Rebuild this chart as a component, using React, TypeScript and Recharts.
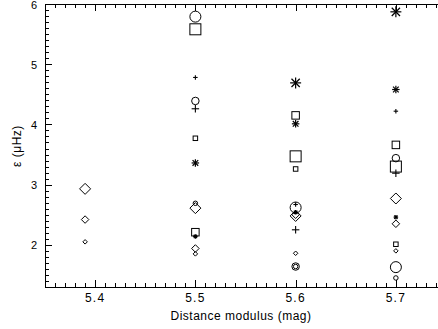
import React from 'react';
import { ScatterChart, Scatter, XAxis, YAxis, ReferenceLine } from 'recharts';

// ---- data (x = distance modulus, y = epsilon in muHz) ----
const circleL = [{ x: 5.5, y: 5.79 }, { x: 5.6, y: 2.62 }, { x: 5.7, y: 1.63 }];
const circleM = [{ x: 5.5, y: 4.39 }, { x: 5.6, y: 1.64 }, { x: 5.7, y: 3.44 }];
const circleS = [{ x: 5.5, y: 2.69 }, { x: 5.6, y: 1.64 }, { x: 5.7, y: 1.45 }];
const squareL = [{ x: 5.5, y: 5.58 }, { x: 5.6, y: 3.47 }, { x: 5.7, y: 3.3 }];
const squareM = [{ x: 5.5, y: 2.21 }, { x: 5.6, y: 4.15 }, { x: 5.7, y: 3.66 }];
const squareS = [{ x: 5.5, y: 3.77 }, { x: 5.6, y: 3.26 }, { x: 5.7, y: 2.01 }];
const diamondL = [{ x: 5.39, y: 2.93 }, { x: 5.5, y: 2.61 }, { x: 5.6, y: 2.48 }, { x: 5.7, y: 2.77 }];
const diamondM = [{ x: 5.39, y: 2.42 }, { x: 5.5, y: 1.94 }, { x: 5.6, y: 2.5 }, { x: 5.7, y: 2.35 }];
const diamondS = [{ x: 5.39, y: 2.05 }, { x: 5.5, y: 1.85 }, { x: 5.6, y: 1.86 }, { x: 5.7, y: 1.9 }];
const plusM = [{ x: 5.5, y: 4.26 }, { x: 5.6, y: 2.25 }, { x: 5.7, y: 3.19 }];
const plusS = [{ x: 5.5, y: 4.78 }, { x: 5.6, y: 2.67 }, { x: 5.7, y: 4.22 }];
const asteriskL = [{ x: 5.6, y: 4.69 }, { x: 5.7, y: 5.87 }];
const asteriskM = [{ x: 5.5, y: 3.36 }, { x: 5.6, y: 4.01 }, { x: 5.7, y: 4.58 }];
const asteriskS = [{ x: 5.5, y: 2.14 }, { x: 5.6, y: 2.54 }, { x: 5.7, y: 2.46 }];

const xMajorLabels = ['5.4', '5.5', '5.6', '5.7'];
const yMajorLabels = ['2', '3', '4', '5', '6'];
const xDomain: [number, number] = [5.35, 5.75];
const yDomain: [number, number] = [1.3, 6.0];

// tick positions (0.01 steps on x, 0.1 steps on y)
const xTicks: number[] = [];
for (let i = 535; i <= 575; i++) xTicks.push(i / 100);
const yTicks: number[] = [];
for (let i = 13; i <= 60; i++) yTicks.push(i / 10);

const FONT = '"Liberation Sans", Arial, sans-serif';
const INK = '#000';
const SIZE = { L: 11, M: 7.5, S: 4.5 };
const PLOT_H = 283; // bottom axis to top frame

function makeShape(kind: string, size: number) {
  return (props: any) => {
    const { cx, cy } = props;
    if (cx == null || cy == null) return <g />;
    const r = size / 2;
    const common = { stroke: INK, strokeWidth: 1, fill: 'none' };
    if (kind === 'circle') return <circle cx={cx} cy={cy} r={r} {...common} />;
    if (kind === 'square') return <rect x={cx - r} y={cy - r} width={size} height={size} {...common} />;
    if (kind === 'diamond')
      return (
        <polygon
          points={`${cx},${cy - r} ${cx + r},${cy} ${cx},${cy + r} ${cx - r},${cy}`}
          {...common}
        />
      );
    if (kind === 'plus')
      return (
        <g {...common} strokeWidth={1.1}>
          <line x1={cx - r} x2={cx + r} y1={cy} y2={cy} />
          <line x1={cx} x2={cx} y1={cy - r} y2={cy + r} />
        </g>
      );
    const d = r * 0.75;
    return (
      <g {...common} strokeWidth={1.2}>
        <line x1={cx - r} x2={cx + r} y1={cy} y2={cy} />
        <line x1={cx} x2={cx} y1={cy - r} y2={cy + r} />
        <line x1={cx - d} x2={cx + d} y1={cy - d} y2={cy + d} />
        <line x1={cx - d} x2={cx + d} y1={cy + d} y2={cy - d} />
      </g>
    );
  };
}

const isMajorX = (v: number) => xMajorLabels.includes(v.toFixed(2).replace(/0$/, ''));
const isMajorY = (v: number) => yMajorLabels.includes(v.toFixed(1).replace(/\.0$/, ''));

const BottomTick = (props: any) => {
  const { x, y, payload } = props;
  const v = payload.value as number;
  const major = isMajorX(v);
  const len = major ? 7 : 4;
  const px = Math.round(x) + 0.5;
  const py = Math.round(y);
  return (
    <g>
      <line x1={px} x2={px} y1={py} y2={py - len} stroke={INK} strokeWidth={1} />
      <line x1={px} x2={px} y1={py - PLOT_H} y2={py - PLOT_H + len} stroke={INK} strokeWidth={1} />
      {major && (
        <text
          x={x}
          y={y + 15}
          textAnchor="middle"
          fontSize={12}
          letterSpacing={1.2}
          fontFamily={FONT}
          fill={INK}
          stroke="none"
        >
          {v.toFixed(1)}
        </text>
      )}
    </g>
  );
};

const LeftTick = (props: any) => {
  const { x, y, payload } = props;
  const v = payload.value as number;
  const major = isMajorY(v);
  const len = major ? 7 : 4;
  const px = Math.round(x);
  const py = Math.round(y) + 0.5;
  return (
    <g>
      <line x1={px} x2={px + len} y1={py} y2={py} stroke={INK} strokeWidth={1} />
      {major && (
        <text
          x={x - 8}
          y={y + 4.5}
          textAnchor="end"
          fontSize={11}
          fontFamily={FONT}
          fill={INK}
          stroke="none"
        >
          {String(Math.round(v))}
        </text>
      )}
    </g>
  );
};

const series: [any[], string, number][] = [
  [circleL, 'circle', SIZE.L],
  [circleM, 'circle', SIZE.M],
  [circleS, 'circle', SIZE.S],
  [squareL, 'square', SIZE.L],
  [squareM, 'square', SIZE.M],
  [squareS, 'square', SIZE.S],
  [diamondL, 'diamond', SIZE.L],
  [diamondM, 'diamond', SIZE.M],
  [diamondS, 'diamond', SIZE.S],
  [plusM, 'plus', SIZE.M],
  [plusS, 'plus', SIZE.S],
  [asteriskL, 'asterisk', SIZE.L],
  [asteriskM, 'asterisk', SIZE.M],
  [asteriskS, 'asterisk', SIZE.S],
];

export default function App() {
  return (
    <div
      style={{
        position: 'absolute',
        left: 0,
        top: 0,
        width: 438,
        height: 329,
        overflow: 'hidden',
        background: '#fff',
      }}
    >
      <ScatterChart width={460} height={329} margin={{ top: 4, right: 14, bottom: 0, left: 0 }}>
        <XAxis
          xAxisId="b"
          orientation="bottom"
          type="number"
          dataKey="x"
          domain={xDomain}
          ticks={xTicks}
          interval={0}
          allowDataOverflow
          height={42}
          tickSize={0}
          tickMargin={0}
          tickLine={false}
          axisLine={{ stroke: INK, strokeWidth: 1, shapeRendering: 'crispEdges' }}
          tick={<BottomTick />}
          label={{
            content: () => (
              <text
                x={241}
                y={320}
                textAnchor="middle"
                fontSize={12}
                letterSpacing={0.5}
                fontFamily={FONT}
                fill={INK}
              >
                Distance modulus (mag)
              </text>
            ),
          }}
        />
        <YAxis
          type="number"
          dataKey="y"
          domain={yDomain}
          ticks={yTicks}
          interval={0}
          allowDataOverflow
          width={45}
          tickSize={0}
          tickMargin={0}
          tickLine={false}
          axisLine={{ stroke: INK, strokeWidth: 1, shapeRendering: 'crispEdges' }}
          tick={<LeftTick />}
          label={{
            content: () => (
              <text
                x={21}
                y={146}
                transform="rotate(-90, 21, 146)"
                textAnchor="middle"
                fontSize={12}
                letterSpacing={0.5}
                fontFamily={FONT}
                fill={INK}
              >
                ε (μHz)
              </text>
            ),
          }}
        />
        <ReferenceLine
          xAxisId="b"
          y={6}
          stroke={INK}
          strokeWidth={1}
          shapeRendering="crispEdges"
          ifOverflow="visible"
        />
        {series.map(([data, kind, size], i) => (
          <Scatter
            key={i}
            xAxisId="b"
            data={data}
            isAnimationActive={false}
            shape={makeShape(kind, size)}
          />
        ))}
      </ScatterChart>
    </div>
  );
}
